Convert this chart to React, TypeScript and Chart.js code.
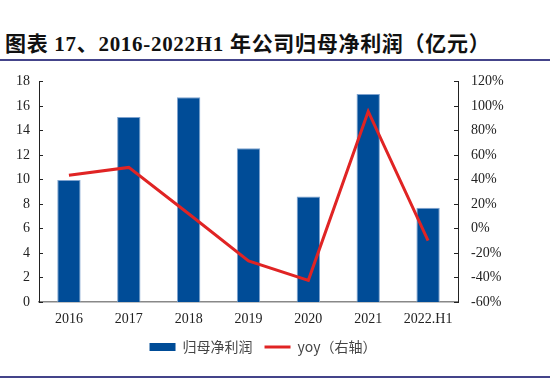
import React, { useEffect, useRef } from "react";
import { Chart, registerables } from "chart.js";

Chart.register(...registerables);

const categories = ["2016", "2017", "2018", "2019", "2020", "2021", "2022.H1"];
const netProfit = [9.95, 15.1, 16.7, 12.55, 8.6, 16.97, 7.7];
const yoy = [43.5, 49.8, 12, -26.4, -42.3, 95.5, -10];
const leftTicks = [0, 2, 4, 6, 8, 10, 12, 14, 16, 18];
const rightTicks = [-60, -40, -20, 0, 20, 40, 60, 80, 100, 120];

const innerTicks = {
  id: "innerTicks",
  afterDraw(chart: any) {
    const ctx = chart.ctx;
    const y = chart.scales.y;
    const y1 = chart.scales.y1;
    ctx.save();
    ctx.strokeStyle = "#222";
    ctx.lineWidth = 1;
    y.ticks.forEach((t: any) => {
      const py = Math.round(y.getPixelForValue(t.value)) + 0.5;
      ctx.beginPath();
      ctx.moveTo(y.right, py);
      ctx.lineTo(y.right + 4, py);
      ctx.stroke();
    });
    y1.ticks.forEach((t: any) => {
      const py = Math.round(y1.getPixelForValue(t.value)) + 0.5;
      ctx.beginPath();
      ctx.moveTo(y1.left, py);
      ctx.lineTo(y1.left - 4, py);
      ctx.stroke();
    });
    ctx.restore();
  },
};

export default function App() {
  const ref = useRef<HTMLCanvasElement>(null);
  useEffect(() => {
    if (!ref.current) return;
    const serif = "'Liberation Serif', 'Noto Sans CJK SC', serif";
    const chart = new Chart(ref.current, {
      type: "bar",
      data: {
        labels: categories,
        datasets: [
          {
            type: "line",
            label: "yoy（右轴）",
            data: yoy,
            yAxisID: "y1",
            borderColor: "#E02424",
            backgroundColor: "#E02424",
            borderWidth: 3,
            pointRadius: 0,
            tension: 0,
            order: 0,
          } as any,
          {
            type: "bar",
            label: "归母净利润",
            data: netProfit,
            yAxisID: "y",
            backgroundColor: "#004C97",
            borderColor: "#7FA3CF",
            borderWidth: 1,
            barPercentage: 0.39,
            categoryPercentage: 1,
            order: 1,
          } as any,
        ],
      },
      options: {
        animation: false,
        responsive: false,
        maintainAspectRatio: false,
        layout: { padding: { top: 19, bottom: 12, left: 0, right: 24 } },
        plugins: {
          tooltip: { enabled: false },
          legend: {
            position: "bottom",
            reverse: true,
            labels: {
              usePointStyle: true,
              pointStyleWidth: 26,
              boxWidth: 26,
              boxHeight: 8,
              padding: 12,
              color: "#444",
              font: { family: "'Noto Sans CJK SC', 'Liberation Serif', serif", size: 14 },
              generateLabels(chart: any) {
                const items = Chart.defaults.plugins.legend.labels.generateLabels(chart);
                return items.map((it: any) => {
                  const ds = chart.data.datasets[it.datasetIndex];
                  if (ds.type === "line") {
                    return { ...it, pointStyle: "line", lineWidth: 3, strokeStyle: "#E02424" };
                  }
                  return { ...it, pointStyle: "rect", lineWidth: 0, fillStyle: "#004C97", strokeStyle: "#004C97" };
                });
              },
            },
          },
        },
        scales: {
          x: {
            grid: { display: false, drawTicks: false },
            border: { display: true, color: "#888", width: 1.5 },
            ticks: { color: "#222", padding: 9, font: { family: serif, size: 14 }, maxRotation: 0 },
            afterFit(s: any) {
              s.height = 26;
            },
          },
          y: {
            position: "left",
            min: 0,
            max: 18,
            grid: { display: false, drawTicks: false },
            border: { display: true, color: "#222", width: 1 },
            afterBuildTicks(s: any) {
              s.ticks = leftTicks.map((v) => ({ value: v }));
            },
            ticks: { color: "#222", padding: 9, font: { family: serif, size: 14 } },
            afterFit(s: any) {
              s.width = 39;
            },
          },
          y1: {
            position: "right",
            min: -60,
            max: 120,
            grid: { display: false, drawTicks: false },
            border: { display: true, color: "#222", width: 1 },
            afterBuildTicks(s: any) {
              s.ticks = rightTicks.map((v) => ({ value: v }));
            },
            ticks: {
              color: "#222",
              padding: 13,
              font: { family: serif, size: 14 },
              callback: (v: any) => `${v}%`,
            },
            afterFit(s: any) {
              s.width = 68;
            },
          },
        },
      },
      plugins: [innerTicks],
    } as any);
    return () => chart.destroy();
  }, []);

  return (
    <div style={{ position: "absolute", left: 0, top: 0, width: 550, height: 380, background: "#fff" }}>
      <div
        style={{
          position: "absolute",
          left: 5,
          top: 31,
          fontFamily: "'Liberation Serif', 'Noto Sans CJK SC', serif",
          fontWeight: "bold",
          fontSize: 21,
          letterSpacing: 0.7,
          color: "#111",
          whiteSpace: "nowrap",
          lineHeight: "26px",
        }}
      >
        图表 17、2016-2022H1 年公司归母净利润（亿元）
      </div>
      <div style={{ position: "absolute", left: 0, top: 59, width: 550, height: 2, background: "#44448a" }} />
      <canvas ref={ref} width={550} height={316} style={{ position: "absolute", left: 0, top: 60 }} />
      <div style={{ position: "absolute", left: 0, top: 376, width: 550, height: 2, background: "#44448a" }} />
    </div>
  );
}
